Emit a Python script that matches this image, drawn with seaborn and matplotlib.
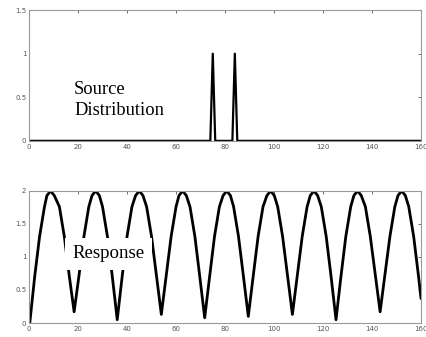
import numpy as np
import pandas as pd
import matplotlib
matplotlib.use("Agg")
import matplotlib.pyplot as plt
import seaborn as sns

# source distribution: two narrow spikes
src_x = [0, 74, 75, 76, 83, 84, 85, 160]
src_y = [0, 0, 1, 0, 0, 1, 0, 0]

# response curve
resp_x = [0.3, 2.3, 4.3, 6.3, 7.3, 8.8, 10.3, 12.4, 14.4, 16.4, 18.4,
          20.4, 22.4, 24.4, 25.7, 27.2, 28.7, 30.0, 32.0, 34.0, 36.0,
          38.0, 40.0, 42.0, 43.5, 45.0, 46.5, 48.0, 50.0, 52.0, 54.0,
          56.0, 58.0, 60.0, 61.2, 62.7, 64.2, 65.7, 67.7, 69.7, 71.7,
          73.7, 75.7, 77.7, 79.2, 80.7, 82.2, 83.5, 85.5, 87.5, 89.5,
          91.5, 93.5, 95.5, 97.1, 98.6, 100.1, 101.5, 103.5, 105.5, 107.5,
          109.5, 111.5, 113.5, 114.8, 116.3, 117.8, 119.3, 121.3, 123.3, 125.3,
          127.3, 129.3, 131.3, 132.6, 134.1, 135.6, 137.3, 139.3, 141.3, 143.3,
          145.3, 147.3, 149.3, 150.6, 152.1, 153.6, 155.0, 157.0, 159.0, 160.0]
resp_y = [0.0, 0.70, 1.31, 1.76, 1.93, 2.0, 1.93, 1.76, 1.31, 0.72, 0.17,
          0.72, 1.31, 1.76, 1.93, 2.0, 1.93, 1.76, 1.31, 0.70, 0.05,
          0.70, 1.31, 1.76, 1.93, 2.0, 1.93, 1.76, 1.31, 0.72, 0.13,
          0.72, 1.31, 1.76, 1.93, 2.0, 1.93, 1.76, 1.31, 0.70, 0.08,
          0.70, 1.31, 1.76, 1.93, 2.0, 1.93, 1.76, 1.31, 0.71, 0.10,
          0.71, 1.31, 1.76, 1.93, 2.0, 1.93, 1.76, 1.31, 0.72, 0.13,
          0.72, 1.31, 1.76, 1.93, 2.0, 1.93, 1.76, 1.31, 0.70, 0.05,
          0.70, 1.31, 1.76, 1.93, 2.0, 1.93, 1.76, 1.31, 0.74, 0.17,
          0.74, 1.31, 1.76, 1.93, 2.0, 1.93, 1.76, 1.31, 0.70, 0.37]

x_ticks = [0, 20, 40, 60, 80, 100, 120, 140, 160]

sns.set_style("white")

fig = plt.figure(figsize=(4.27, 3.37), dpi=100)
ax1 = fig.add_axes([0.068, 0.582, 0.918, 0.388])
ax2 = fig.add_axes([0.068, 0.0415, 0.918, 0.392])

sns.lineplot(x=src_x, y=src_y, ax=ax1, color="black", linewidth=1.6)
sns.lineplot(x=resp_x, y=resp_y, ax=ax2, color="black", linewidth=2.0)

for ax, ylim, yt, ylab in [(ax1, 1.5, [0, 0.5, 1, 1.5], ["0", "0.5", "1", "1.5"]),
                           (ax2, 2, [0, 0.5, 1, 1.5, 2], ["0", "0.5", "1", "1.5", "2"])]:
    ax.set_xlim(0, 160)
    ax.set_ylim(0, ylim)
    ax.set_xticks(x_ticks)
    ax.set_xticklabels([str(t) for t in x_ticks])
    ax.set_yticks(yt)
    ax.set_yticklabels(ylab)
    ax.tick_params(direction="in", length=2.5, width=0.6, labelsize=5,
                   colors="#555555", top=True, right=True, pad=2)
    for s in ax.spines.values():
        s.set_color("#999999")
        s.set_linewidth(0.8)
    ax.set_xlabel("")
    ax.set_ylabel("")

serif = "Liberation Serif"
ax1.text(0.115, 0.36, "Source", transform=ax1.transAxes, fontfamily=serif,
         fontsize=13.3, color="black", va="baseline", ha="left")
ax1.text(0.115, 0.20, "Distribution", transform=ax1.transAxes, fontfamily=serif,
         fontsize=13.3, color="black", va="baseline", ha="left")
# response label in a white box
ax2.text(0.110, 0.49, "Response", transform=ax2.transAxes, fontfamily=serif,
         fontsize=13.6, color="black", va="baseline", ha="left",
         bbox=dict(facecolor="white", edgecolor="none", pad=5.5))

plt.savefig("out.png", dpi=100)
